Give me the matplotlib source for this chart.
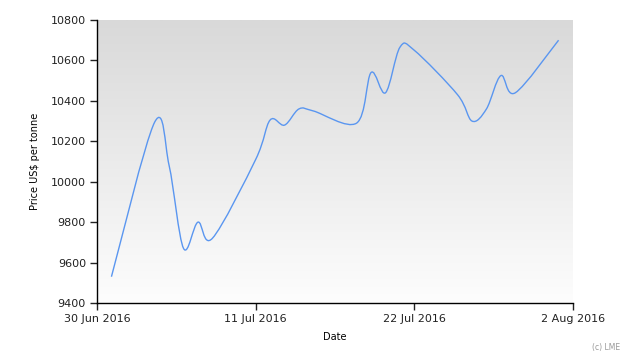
import numpy as np
import matplotlib
matplotlib.use("Agg")
import matplotlib.pyplot as plt
import matplotlib.dates as mdates
from matplotlib.path import Path
from matplotlib.patches import PathPatch
import datetime as dt

# LME price, US$ per tonne
dates = ["2016-07-01", "2016-07-04", "2016-07-05", "2016-07-06", "2016-07-07",
         "2016-07-08", "2016-07-11", "2016-07-12", "2016-07-13", "2016-07-14",
         "2016-07-15", "2016-07-18", "2016-07-19", "2016-07-20", "2016-07-21",
         "2016-07-22", "2016-07-25", "2016-07-26", "2016-07-27", "2016-07-28",
         "2016-07-29", "2016-08-01"]
prices = [9530, 10295, 10080, 9670, 9800,
          9720, 10110, 10305, 10280, 10360,
          10350, 10290, 10540, 10440, 10665,
          10650, 10430, 10300, 10360, 10525,
          10440, 10700]
xtick_dates = ["2016-06-30", "2016-07-11", "2016-07-22", "2016-08-02"]
xtick_labels = ["30 Jun 2016", "11 Jul 2016", "22 Jul 2016", "2 Aug 2016"]
yticks = [9400, 9600, 9800, 10000, 10200, 10400, 10600, 10800]


def to_num(ds):
    return mdates.date2num([dt.datetime.strptime(d, "%Y-%m-%d") for d in ds])


def smooth_path(x, y, t=1 / 6.0):
    # cubic bezier segments through the points (catmull-rom style handles)
    verts = [(x[0], y[0])]
    codes = [Path.MOVETO]
    n = len(x)
    for i in range(n - 1):
        x0, y0 = (x[i - 1], y[i - 1]) if i > 0 else (x[i], y[i])
        x3, y3 = (x[i + 2], y[i + 2]) if i + 2 < n else (x[i + 1], y[i + 1])
        c1 = (x[i] + (x[i + 1] - x0) * t, y[i] + (y[i + 1] - y0) * t)
        c2 = (x[i + 1] - (x3 - x[i]) * t, y[i + 1] - (y3 - y[i]) * t)
        verts += [c1, c2, (x[i + 1], y[i + 1])]
        codes += [Path.CURVE4] * 3
    return Path(verts, codes)


plt.rcParams['font.family'] = ['DejaVu Sans']
fig = plt.figure(figsize=(6.3, 3.6), dpi=100)
ax = fig.add_axes([97 / 630, 57 / 360, 476 / 630, 283 / 360])

xd = to_num(dates)
xt = to_num(xtick_dates)

# grey-to-white background
grad = np.linspace(0, 1, 256).reshape(-1, 1)
ax.imshow(grad, cmap=plt.cm.colors.LinearSegmentedColormap.from_list(
    "bg", ["#d9d9d9", "#fdfdfd"]), aspect="auto",
    extent=[0, 1, 0, 1], transform=ax.transAxes, zorder=0, origin="upper")

ax.add_patch(PathPatch(smooth_path(xd, np.array(prices, float)),
                       facecolor="none", edgecolor="#5a96f0", lw=1.0, zorder=2))

ax.set_xlim(xt[0], xt[-1])
ax.set_ylim(9400, 10800)
ax.set_xticks(xt)
ax.set_xticklabels(xtick_labels)
ax.set_yticks(yticks)
ax.tick_params(labelsize=8, length=5, width=1, colors="#222222", pad=3)

for s in ["top", "right"]:
    ax.spines[s].set_visible(False)
for s in ["left", "bottom"]:
    ax.spines[s].set_color("#000000")
    ax.spines[s].set_linewidth(1)

ax.set_xlabel("Date", fontsize=7, labelpad=6)
ax.set_ylabel("Price US$ per tonne", fontsize=7, labelpad=8)
fig.text(0.985, 0.035, "(c) LME", fontsize=5.5, color="#999999",
         ha="right", va="center")

fig.savefig("out.png", dpi=100)
